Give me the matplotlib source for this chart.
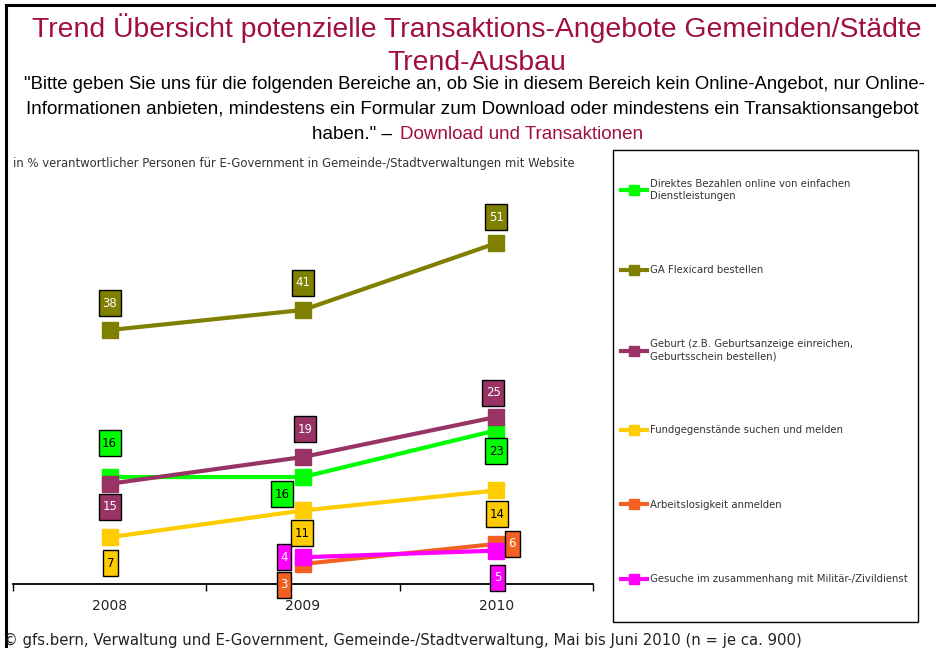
import matplotlib
matplotlib.use('Agg')
import matplotlib.pyplot as plt
from matplotlib import font_manager
from matplotlib.path import Path
from matplotlib.lines import Line2D
from matplotlib.patches import Rectangle
import numpy as np

years = ['2008', '2009', '2010']

bezahlen = [16, 16, 23]
flexicard = [38, 41, 51]
geburt = [15, 19, 25]
fundsachen = [7, 11, 14]
arbeitslos = [np.nan, 3, 6]
militaer = [np.nan, 4, 5]

series = [bezahlen, flexicard, geburt, fundsachen, arbeitslos, militaer]
names = ['Direktes Bezahlen online von einfachen\nDienstleistungen',
         'GA Flexicard bestellen',
         'Geburt (z.B. Geburtsanzeige einreichen,\nGeburtsschein bestellen)',
         'Fundgegenstände suchen und melden',
         'Arbeitslosigkeit anmelden',
         'Gesuche im zusammenhang mit Militär-/Zivildienst']
colors = ['#00FF00', '#808000', '#993366', '#FFCC00', '#F26122', '#FF00FF']
text_colors = ['black', 'white', 'white', 'black', 'white', 'white']

# where each value label sits relative to its marker (pixels)
offsets = [
    [(0, 34), (-21, -17), (0, -21)],
    [(0, 27), (0, 27), (0, 26)],
    [(0, -23), (2, 28), (-3, 24)],
    [(1, -26), (-1, -23), (1, -24)],
    [None, (-19, -21), (16, 0)],
    [None, (-19, 0), (1, -27)],
]

W, H = 937, 648
fonts = {f.name for f in font_manager.fontManager.ttflist}
narrow = 'Liberation Sans Narrow' if 'Liberation Sans Narrow' in fonts else 'Liberation Sans'
title_size = 24 if narrow.endswith('Narrow') else 20.4
sub_size = 15 if narrow.endswith('Narrow') else 13.6
crimson = '#A0103C'


def fx(px):
    return px / W


def fy(py):
    return 1 - py / H


def tall_box(x0, y0, width, height, mutation_size):
    padx = 0.3 * mutation_size
    pady = 0.55 * mutation_size
    x0, y0 = x0 - padx, y0 - pady
    x1, y1 = x0 + width + 2 * padx, y0 + height + 2 * pady
    return Path([(x0, y0), (x1, y0), (x1, y1), (x0, y1), (x0, y0)],
                [Path.MOVETO, Path.LINETO, Path.LINETO, Path.LINETO, Path.CLOSEPOLY])


fig = plt.figure(figsize=(W / 100, H / 100), dpi=100)

# outer frame (left and top only visible)
fig.add_artist(Line2D([fx(6), fx(6)], [fy(5), 0], color='black', lw=2.2))
fig.add_artist(Line2D([fx(6), 1], [fy(5), fy(5)], color='black', lw=2.2))

fig.text(fx(477), fy(37), 'Trend Übersicht potenzielle Transaktions-Angebote Gemeinden/Städte',
         ha='center', va='baseline', fontsize=title_size, color=crimson, family=narrow)
fig.text(fx(477), fy(70), 'Trend-Ausbau',
         ha='center', va='baseline', fontsize=title_size, color=crimson, family=narrow)
fig.text(fx(474), fy(89), '"Bitte geben Sie uns für die folgenden Bereiche an, ob Sie in diesem Bereich kein Online-Angebot, nur Online-',
         ha='center', va='baseline', fontsize=sub_size - 0.3, color='black', family=narrow)
fig.text(fx(472), fy(114), 'Informationen anbieten, mindestens ein Formular zum Download oder mindestens ein Transaktionsangebot',
         ha='center', va='baseline', fontsize=sub_size, color='black', family=narrow)
fig.text(fx(397), fy(139), 'haben." – ', ha='right', va='baseline',
         fontsize=sub_size, color='black', family=narrow)
fig.text(fx(400), fy(139), 'Download und Transaktionen', ha='left', va='baseline',
         fontsize=sub_size, color=crimson, family=narrow)

fig.text(fx(13), fy(167), 'in % verantwortlicher Personen für E-Government in Gemeinde-/Stadtverwaltungen mit Website',
         ha='left', va='baseline', fontsize=8.35, color='#333333')
fig.text(fx(3), fy(645), '© gfs.bern, Verwaltung und E-Government, Gemeinde-/Stadtverwaltung, Mai bis Juni 2010 (n = je ca. 900)',
         ha='left', va='baseline', fontsize=10.7, color='#222222')

ax = fig.add_axes([fx(13), fy(584), fx(580), 401 / H])
x = np.arange(len(years))
for vals, c in zip(series, colors):
    ax.plot(x, vals, color=c, lw=3, marker='s', ms=11, mec=c, clip_on=False)

for vals, c, tc, offs in zip(series, colors, text_colors, offsets):
    for i, v in enumerate(vals):
        if np.isnan(v):
            continue
        ax.annotate(str(int(v)), (i, v), xytext=offs[i], textcoords='offset pixels',
                    ha='center', va='center', fontsize=8.5, color=tc, zorder=6,
                    bbox=dict(boxstyle=tall_box, fc=c, ec='black', lw=1))

ax.set_xlim(-0.5, 2.5)
ax.set_ylim(0, 60)
ax.set_yticks([])
for s in ['left', 'right', 'top']:
    ax.spines[s].set_visible(False)
ax.spines['bottom'].set_linewidth(1.3)
ax.set_xticks(x, years)
ax.set_xticks([-0.5, 0.5, 1.5, 2.5], minor=True)
ax.tick_params(axis='x', which='major', length=0, pad=11, labelsize=10, labelcolor='#222222')
ax.tick_params(axis='x', which='minor', length=5, width=1, direction='out')
ax.patch.set_visible(False)

# legend box
fig.add_artist(Rectangle((fx(613), fy(622)), fx(305), 472 / H, transform=fig.transFigure,
                         fill=False, ec='black', lw=1))
leg_handles = [Line2D([], [], color=c, lw=3, marker='s', ms=7, mec=c) for c in colors]
fig.legend(leg_handles, names, loc='upper left', bbox_to_anchor=(fx(614), fy(172)),
           frameon=False, fontsize=7.3, labelspacing=6.35, handlelength=2.6,
           handletextpad=0.25, borderpad=0.2, labelcolor='#333333')

fig.savefig('out.png', dpi=100)
